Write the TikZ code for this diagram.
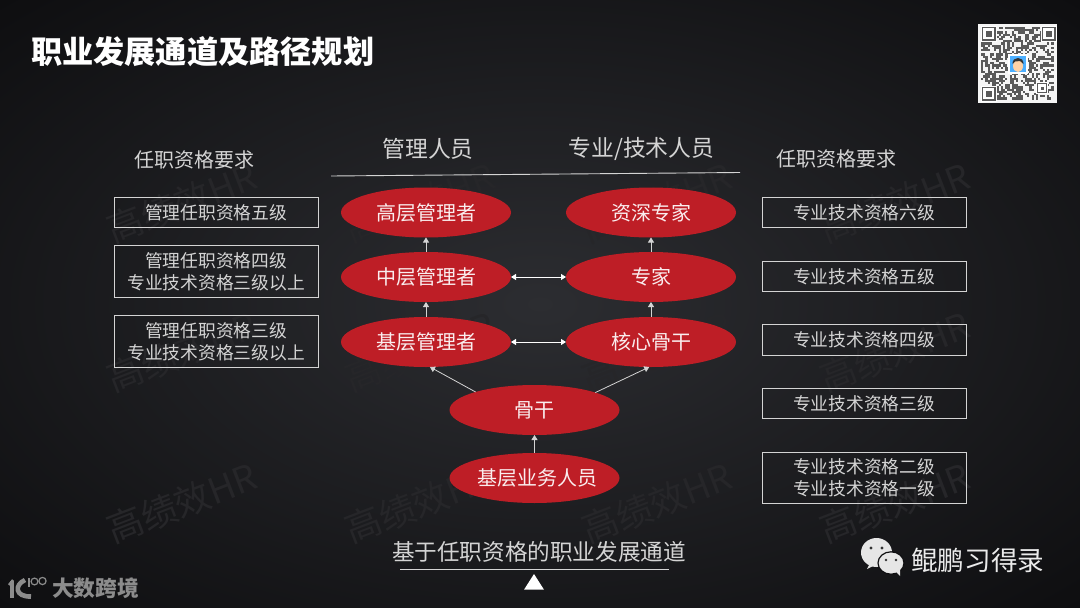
\documentclass[tikz,border=0pt]{standalone}
\usepackage{fontspec}
\setmainfont{Noto Sans CJK SC}
\usetikzlibrary{arrows.meta,shapes.geometric}
\definecolor{slateedge}{HTML}{0E0E10}
\definecolor{slatemid}{HTML}{2C2D31}
\definecolor{markgray}{HTML}{262629}
\definecolor{pathred}{HTML}{BE1E26}
\definecolor{softgray}{HTML}{D4D4D4}
\definecolor{qrgray}{HTML}{5A5A5A}
\definecolor{chatgray}{HTML}{E6E6E6}
\definecolor{logogray}{HTML}{8C8C8C}

\begin{document}
\begin{tikzpicture}[x=1pt,y=-1pt,
    rolenode/.style={ellipse,fill=pathred,draw=none,minimum width=170pt,minimum height=50pt,
      inner sep=0pt,outer sep=0pt,text=white!92!pathred,font=\fontsize{20}{24}\selectfont},
    reqbox/.style={rectangle,draw=softgray,line width=0.9pt,minimum width=204pt,inner sep=0pt,outer sep=0pt,
      align=center,text=softgray,font=\fontsize{17.75}{22}\selectfont},
    headlabel/.style={text=softgray,inner sep=0pt,font=\fontsize{22.8}{26}\selectfont},
    reqlabel/.style={text=softgray,inner sep=0pt,font=\fontsize{20}{24}\selectfont},
    watermark/.style={rotate=21,text=markgray,inner sep=0pt,font=\fontsize{36}{40}\selectfont},
    uparrow/.style={-{Triangle[length=5pt,width=6pt]},draw=softgray,line width=0.8pt},
    botharrow/.style={{Triangle[length=5pt,width=6pt]}-{Triangle[length=5pt,width=6pt]},draw=white,line width=0.8pt}]
  \useasboundingbox (0,0) rectangle (1080,608);
  \begin{scope}
    \clip (0,0) rectangle (1080,608);
    \shade[inner color=slatemid,outer color=slateedge] (-224,-126) rectangle (1304,734);
  \end{scope}

  % watermarks
  \foreach \col/\xw in {1/182,2/420,3/657,4/895}
    \foreach \row/\yw in {1/203,2/352,3/503}
      {\node[watermark] (mark\col\row) at (\xw,\yw) {高绩效HR};}

  \node[anchor=west,inner sep=0pt,text=white,font=\fontsize{31.2}{36}\selectfont\bfseries] (title) at (31,52) {职业发展通道及路径规划};

  % column heads
  \node[reqlabel] (reqleft) at (194,160) {任职资格要求};
  \node[reqlabel] (reqright) at (836,159) {任职资格要求};
  \node[headlabel] (headmanage) at (428,149) {管理人员};
  \node[headlabel] (headtech) at (641.5,149) {专业/技术人员};
  \coordinate (ruleA) at (331,176);
  \coordinate (ruleB) at (740,172.5);
  \draw[softgray,line width=0.9pt] (ruleA) -- (ruleB);

  % ladder
  \node[rolenode] (seniormgr) at (426,212.5) {高层管理者};
  \node[rolenode] (middlemgr) at (426,277) {中层管理者};
  \node[rolenode] (basemgr) at (426,342) {基层管理者};
  \node[rolenode] (seniorexp) at (651,212.5) {资深专家};
  \node[rolenode] (expert) at (651,277) {专家};
  \node[rolenode] (corestaff) at (651,342) {核心骨干};
  \node[rolenode] (backbone) at (534.5,410) {骨干};
  \node[rolenode] (staff) at (534.5,478) {\makebox[0pt]{\hspace*{5pt}基层业务人员}};

  \draw[uparrow] (middlemgr) -- (seniormgr);
  \draw[uparrow] (basemgr) -- (middlemgr);
  \draw[uparrow] (expert) -- (seniorexp);
  \draw[uparrow] (corestaff) -- (expert);
  \draw[uparrow] (staff) -- (backbone);
  \draw[uparrow] (backbone.163) -- (basemgr.-81);
  \draw[uparrow] (backbone.16) -- (corestaff.-94);
  \draw[botharrow] (middlemgr) -- (expert);
  \draw[botharrow] (basemgr) -- (corestaff);

  % left boxes
  \node[reqbox,minimum height=30pt] (leftA) at (216,212.7) {管理任职资格五级};
  \node[reqbox,minimum height=51.6pt] (leftB) at (216,271.5) {管理任职资格四级\\专业技术资格三级以上};
  \node[reqbox,minimum height=52.4pt] (leftC) at (216,341.5) {管理任职资格三级\\专业技术资格三级以上};

  % right boxes
  \node[reqbox,minimum height=30pt] (rightA) at (864,212.7) {专业技术资格六级};
  \node[reqbox,minimum height=30.7pt] (rightB) at (864,276.3) {专业技术资格五级};
  \node[reqbox,minimum height=31pt] (rightC) at (864,339.8) {专业技术资格四级};
  \node[reqbox,minimum height=30.4pt] (rightD) at (864,403.5) {专业技术资格三级};
  \node[reqbox,minimum height=51.3pt] (rightE) at (864,477.7) {专业技术资格二级\\专业技术资格一级};

  % bottom caption
  \node[text=softgray,inner sep=0pt,font=\fontsize{22.6}{26}\selectfont] (caption) at (539,552) {基于任职资格的职业发展通道};
  \coordinate (capA) at (400,569.5);
  \coordinate (capB) at (669,569.5);
  \draw[softgray,line width=0.8pt] (capA) -- (capB);
  \fill[white] (534,574) -- (544,589.7) -- (524,589.7) -- cycle;

  % qr code
  \fill[white!96!black] (978,24) rectangle (1057,103);
  \pgfmathsetseed{41}
  \foreach \i in {0,...,32}
    \foreach \j in {0,...,32}
      {\pgfmathrandominteger{\qrbit}{0}{1}
       \ifnum\qrbit=0
         \fill[qrgray] ({981+\i*2.2},{27+\j*2.2}) rectangle ++(2.2,2.2);
       \fi}
  \foreach \xq/\yq in {981/26,1041/26,981/86}
    {\fill[white] (\xq,\yq) rectangle ++(15.5,15.5);
     \draw[qrgray,line width=1.6pt] ({\xq+1.5},{\yq+1.5}) rectangle ++(12.5,12.5);
     \fill[qrgray] ({\xq+4.7},{\yq+4.7}) rectangle ++(6.1,6.1);}
  \fill[white] (1036,82) rectangle ++(12,12);
  \draw[qrgray,line width=1.4pt] (1037.5,83.5) rectangle ++(9,9);
  \fill[qrgray] (1040.5,86.5) rectangle ++(3,3);
  \fill[white] (1008,54) rectangle (1028,74);
  \fill[blue!45!cyan!70!white] (1010,56) rectangle (1026,72);
  \fill[orange!35!white] (1018,66) ellipse (5 and 6);
  \fill[black!80] (1012.5,64) .. controls (1012,56) and (1024,56) .. (1023.5,64) -- (1020,61) -- (1015,61.5) -- cycle;

  % chat mark
  \fill[chatgray] (870,563) -- (867,569) -- (875,565) -- cycle;
  \fill[chatgray] (876.5,552.5) ellipse (15.5 and 14.5);
  \fill[chatgray,draw=slateedge,line width=1.2pt] (891,563) ellipse (13 and 11.2);
  \fill[chatgray] (896,572) -- (900,576) -- (900,569) -- cycle;
  \fill[black!80] (871,548) circle (1.6);
  \fill[black!80] (882,548) circle (1.6);
  \fill[black!80] (886,560) circle (1.4);
  \fill[black!80] (896,560) circle (1.4);
  \node[anchor=west,inner sep=0pt,text=white!92!black,font=\fontsize{26.6}{30}\selectfont] (account) at (911,560) {鲲鹏习得录};

  % logo
  \draw[logogray,line width=4pt] (12,581) -- (12,598);
  \draw[logogray,line width=2.5pt] (9,585) -- (13,580);
  \draw[logogray,line width=4.6pt] (25,580) .. controls (14,585) and (15,597) .. (31,596.5);
  \draw[logogray,line width=1.2pt] (29,587) -- (29,578);
  \draw[logogray,line width=1.2pt] (34.5,581.5) circle (3.4);
  \draw[logogray,line width=1.2pt] (42.5,581) circle (3.6);
  \node[anchor=west,inner sep=0pt,text=logogray,font=\fontsize{21.7}{25}\selectfont\bfseries] (brand) at (52,588) {大数跨境};
\end{tikzpicture}
\end{document}
